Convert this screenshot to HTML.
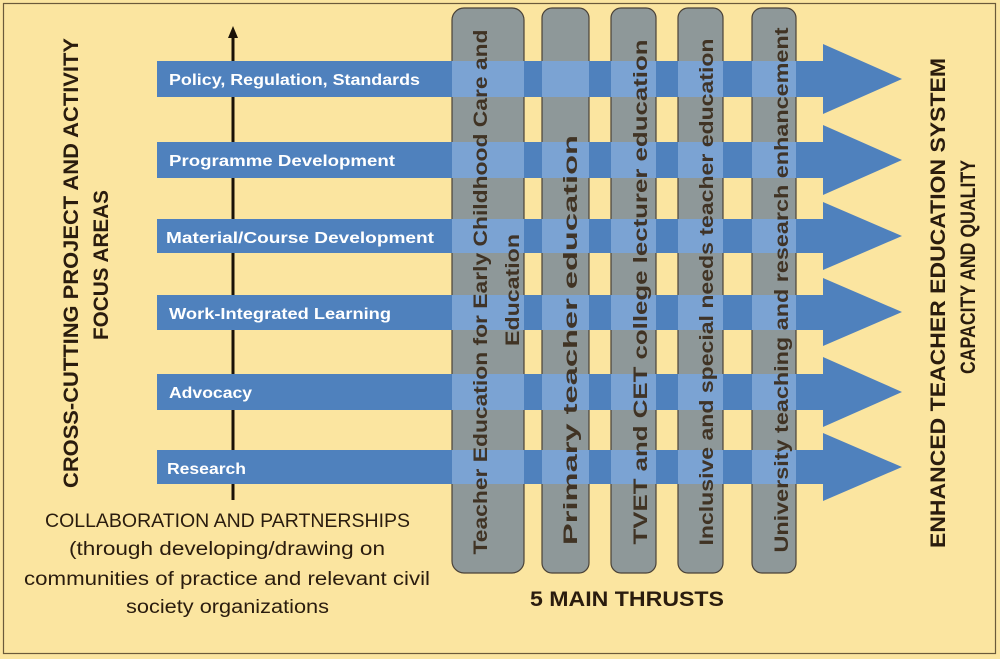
<!DOCTYPE html>
<html><head><meta charset="utf-8"><style>
html,body{margin:0;padding:0;background:#fbe5a0;}
svg{display:block;}
text{font-family:"Liberation Sans",sans-serif;}
</style></head><body>
<svg width="1000" height="659" viewBox="0 0 1000 659" xmlns="http://www.w3.org/2000/svg">
<rect x="0" y="0" width="1000" height="659" fill="#fbe5a0"/>
<rect x="3.5" y="3.5" width="992" height="650" fill="none" stroke="#6b5a3a" stroke-width="1.2"/>

<!-- vertical axis arrow -->
<line x1="233" y1="36" x2="233" y2="500" stroke="#1a1208" stroke-width="3"/>
<polygon points="233,26 228,38 238,38" fill="#1a1208"/>

<!-- columns -->
<g fill="#8e9899" stroke="#4a4238" stroke-width="1.2">
<rect x="452" y="8" width="72" height="565" rx="12"/>
<rect x="542" y="8" width="47" height="565" rx="10"/>
<rect x="611" y="8" width="45" height="565" rx="10"/>
<rect x="678" y="8" width="45" height="565" rx="10"/>
<rect x="752" y="8" width="44" height="565" rx="10"/>
</g>

<!-- bars -->
<g fill="#4f81bd">
<polygon points="157,61 823,61 823,44 902,79 823,114 823,97 157,97"/>
<polygon points="157,142 823,142 823,125 902,160 823,195 823,178 157,178"/>
<polygon points="157,219 823,219 823,202 902,236 823,270 823,253 157,253"/>
<polygon points="157,295 823,295 823,278 902,312 823,346 823,330 157,330"/>
<polygon points="157,374 823,374 823,357 902,392 823,427 823,410 157,410"/>
<polygon points="157,450 823,450 823,433 902,467 823,501 823,484 157,484"/>
</g>

<!-- intersections -->
<g fill="#7ba3d3">
<rect x="452" y="61" width="72" height="36"/><rect x="542" y="61" width="47" height="36"/><rect x="611" y="61" width="45" height="36"/><rect x="678" y="61" width="45" height="36"/><rect x="752" y="61" width="44" height="36"/>
<rect x="452" y="142" width="72" height="36"/><rect x="542" y="142" width="47" height="36"/><rect x="611" y="142" width="45" height="36"/><rect x="678" y="142" width="45" height="36"/><rect x="752" y="142" width="44" height="36"/>
<rect x="452" y="219" width="72" height="34"/><rect x="542" y="219" width="47" height="34"/><rect x="611" y="219" width="45" height="34"/><rect x="678" y="219" width="45" height="34"/><rect x="752" y="219" width="44" height="34"/>
<rect x="452" y="295" width="72" height="35"/><rect x="542" y="295" width="47" height="35"/><rect x="611" y="295" width="45" height="35"/><rect x="678" y="295" width="45" height="35"/><rect x="752" y="295" width="44" height="35"/>
<rect x="452" y="374" width="72" height="36"/><rect x="542" y="374" width="47" height="36"/><rect x="611" y="374" width="45" height="36"/><rect x="678" y="374" width="45" height="36"/><rect x="752" y="374" width="44" height="36"/>
<rect x="452" y="450" width="72" height="34"/><rect x="542" y="450" width="47" height="34"/><rect x="611" y="450" width="45" height="34"/><rect x="678" y="450" width="45" height="34"/><rect x="752" y="450" width="44" height="34"/>
</g>

<!-- bar labels -->
<g fill="#ffffff" font-weight="bold" font-size="16">
<text x="169" y="85" textLength="251" lengthAdjust="spacingAndGlyphs">Policy, Regulation, Standards</text>
<text x="169" y="166" textLength="226" lengthAdjust="spacingAndGlyphs">Programme Development</text>
<text x="166" y="243" textLength="268" lengthAdjust="spacingAndGlyphs">Material/Course Development</text>
<text x="169" y="319" textLength="222" lengthAdjust="spacingAndGlyphs">Work-Integrated Learning</text>
<text x="169" y="398" textLength="83" lengthAdjust="spacingAndGlyphs">Advocacy</text>
<text x="167" y="474" textLength="79" lengthAdjust="spacingAndGlyphs">Research</text>
</g>

<!-- column labels -->
<g fill="#3a2a1a" fill-opacity="0.92" font-weight="bold" font-size="19" text-anchor="middle">
<text transform="translate(487,292) rotate(-90)" textLength="525" lengthAdjust="spacingAndGlyphs">Teacher Education for Early Childhood Care and</text>
<text transform="translate(519,290) rotate(-90)" textLength="112" lengthAdjust="spacingAndGlyphs">Education</text>
<text transform="translate(577,340) rotate(-90)" textLength="410" lengthAdjust="spacingAndGlyphs">Primary teacher education</text>
<text transform="translate(647,292) rotate(-90)" textLength="505" lengthAdjust="spacingAndGlyphs">TVET and CET college lecturer education</text>
<text transform="translate(713,292) rotate(-90)" textLength="507" lengthAdjust="spacingAndGlyphs">Inclusive and special needs teacher education</text>
<text transform="translate(788,290) rotate(-90)" textLength="525" lengthAdjust="spacingAndGlyphs">University teaching and research enhancement</text>
</g>

<!-- side titles -->
<g fill="#2a1c0e" font-weight="bold" font-size="21" text-anchor="middle">
<text transform="translate(78,263) rotate(-90)" textLength="450" lengthAdjust="spacingAndGlyphs">CROSS-CUTTING PROJECT AND ACTIVITY</text>
<text transform="translate(108,265) rotate(-90)" textLength="150" lengthAdjust="spacingAndGlyphs">FOCUS AREAS</text>
<text transform="translate(945,303) rotate(-90)" textLength="490" lengthAdjust="spacingAndGlyphs">ENHANCED TEACHER EDUCATION SYSTEM</text>
<text transform="translate(975,267) rotate(-90)" textLength="214" lengthAdjust="spacingAndGlyphs">CAPACITY AND QUALITY</text>
</g>

<!-- bottom texts -->
<g fill="#2a1c0e" font-size="19">
<text x="45" y="527" textLength="365" lengthAdjust="spacingAndGlyphs">COLLABORATION AND PARTNERSHIPS</text>
<text x="69" y="555" textLength="316" lengthAdjust="spacingAndGlyphs">(through developing/drawing on</text>
<text x="24" y="585" textLength="406" lengthAdjust="spacingAndGlyphs">communities of practice and relevant civil</text>
<text x="126" y="613" textLength="203" lengthAdjust="spacingAndGlyphs">society organizations</text>
</g>
<text x="530" y="606" fill="#2a1c0e" font-weight="bold" font-size="21" textLength="194" lengthAdjust="spacingAndGlyphs">5 MAIN THRUSTS</text>
</svg>
</body></html>
